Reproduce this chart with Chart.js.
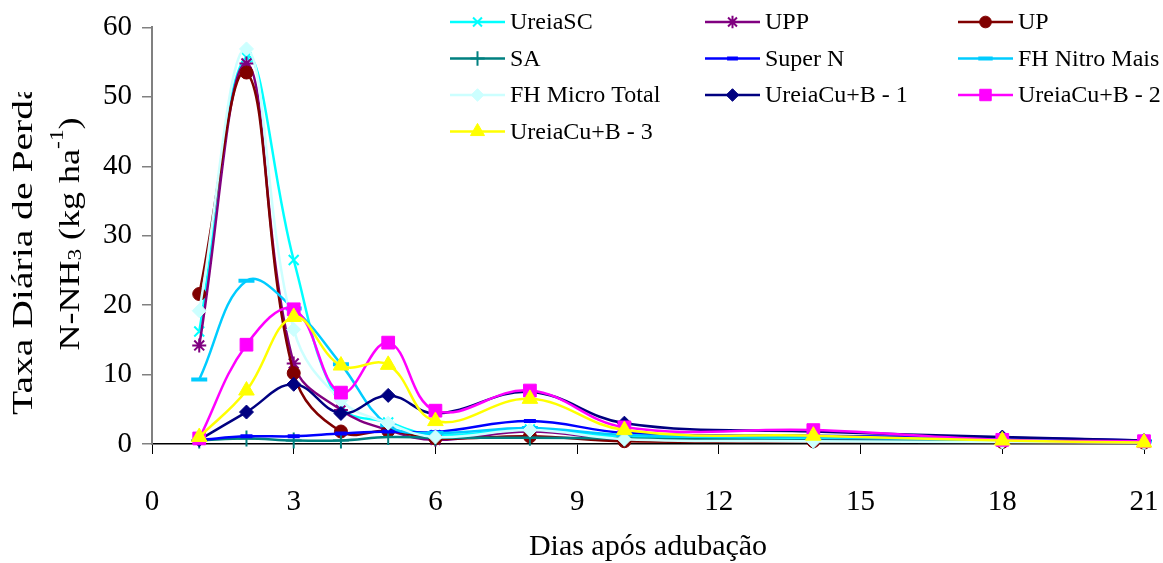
<!DOCTYPE html>
<html>
<head>
<meta charset="utf-8">
<script src="https://cdn.jsdelivr.net/npm/chart.js@4/dist/chart.umd.min.js"></script>
<style>
  html, body { margin: 0; padding: 0; background: #fff; }
  #wrap { width: 1163px; height: 563px; }
</style>
</head>
<body>
<div id="wrap"><canvas id="myChart" width="1163" height="563"></canvas></div>
<script>
// Sampling days after fertilising
const days = [1, 2, 3, 4, 5, 6, 8, 10, 14, 18, 21];

// Daily N-NH3 loss (kg/ha) per treatment
const ureiaSC  = [16.2, 55.7, 26.5, 5.5, 3.1, 1.3, 2.1, 1.0, 0.8, 0.5, 0.3];
const upp      = [14.2, 54.8, 11.6, 4.9, 2.0, 0.6, 1.8, 0.6, 0.5, 0.4, 0.3];
const up       = [21.6, 53.5, 10.2, 1.8, 1.9, 0.8, 1.1, 0.4, 0.4, 0.3, 0.2];
const sa       = [0.5, 0.8, 0.5, 0.5, 1.0, 0.9, 0.9, 0.8, 0.5, 0.4, 0.3];
const superN   = [0.6, 1.1, 1.1, 1.5, 1.8, 1.7, 3.3, 1.6, 1.2, 0.9, 0.5];
const fhNitro  = [9.3, 23.5, 19.5, 11.5, 2.7, 1.6, 2.3, 1.3, 1.0, 0.6, 0.4];
const fhMicro  = [19.2, 56.9, 16.5, 6.3, 3.0, 1.0, 2.0, 0.7, 0.4, 0.3, 0.2];
const ureiaCuB1 = [0.6, 4.6, 8.6, 4.4, 7.0, 4.4, 7.5, 3.0, 1.8, 1.0, 0.5];
const ureiaCuB2 = [0.8, 14.3, 19.4, 7.4, 14.6, 4.8, 7.7, 2.4, 2.0, 0.6, 0.4];
const ureiaCuB3 = [1.0, 7.7, 18.3, 11.3, 11.4, 3.3, 6.5, 2.0, 1.2, 0.5, 0.2];

// Axis ticks
const xTicks = [0, 3, 6, 9, 12, 15, 18, 21];
const yTicks = [0, 10, 20, 30, 40, 50, 60];

const xTitle = 'Dias após adubação';
const yTitleLine1 = 'Taxa Diária de Perda';

const FONT = '"Liberation Serif", "Times New Roman", serif';

// Build one line dataset
function series(label, values, color, pointStyle, radius, markerWidth) {
    return {
        label: label,
        data: days.map((d, i) => ({ x: d, y: values[i] })),
        borderColor: color,
        backgroundColor: color,
        pointBackgroundColor: color,
        pointBorderColor: color,
        pointStyle: pointStyle,
        pointRadius: radius,
        pointHoverRadius: radius,
        pointBorderWidth: markerWidth,
        borderWidth: 2.5,
        tension: 0.4,
        fill: false,
        clip: 20
    };
}

const datasets = [
    series('UreiaSC', ureiaSC, '#00FFFF', 'crossRot', 7, 2),
    series('UPP', upp, '#800080', 'star', 7, 2),
    series('UP', up, '#800000', 'circle', 6.5, 1),
    series('SA', sa, '#008080', 'cross', 8, 2),
    series('Super N', superN, '#0000FF', 'line', 6, 4),
    series('FH Nitro Mais', fhNitro, '#00CCFF', 'line', 8, 4),
    series('FH Micro Total', fhMicro, '#CCFFFF', 'rectRot', 7, 1),
    series('UreiaCu+B - 1', ureiaCuB1, '#000080', 'rectRot', 7, 1),
    series('UreiaCu+B - 2', ureiaCuB2, '#FF00FF', 'rect', 9, 1),
    series('UreiaCu+B - 3', ureiaCuB3, '#FFFF00', 'triangle', 9, 1)
];
// later series sit on top of earlier ones
datasets.forEach((ds, i) => { ds.order = datasets.length - i; });

// Three-column legend inside the plot area
const gridLegend = {
    id: 'gridLegend',
    afterDraw(chart) {
        const ctx = chart.ctx;
        const cols = [450, 705, 958];
        chart.data.datasets.forEach((ds, i) => {
            const x = cols[i % 3];
            const y = 22 + Math.floor(i / 3) * 36.5;
            ctx.save();
            ctx.strokeStyle = ds.borderColor;
            ctx.fillStyle = ds.borderColor;
            ctx.lineWidth = ds.borderWidth;
            ctx.beginPath();
            ctx.moveTo(x, y);
            ctx.lineTo(x + 55, y);
            ctx.stroke();
            ctx.lineWidth = ds.pointBorderWidth;
            if (Chart.helpers && Chart.helpers.drawPoint) {
                Chart.helpers.drawPoint(ctx, {
                    pointStyle: ds.pointStyle,
                    radius: ds.pointRadius * 0.9,
                    borderWidth: ds.pointBorderWidth,
                    rotation: 0
                }, x + 27.5, y);
            }
            ctx.fillStyle = '#000';
            ctx.font = '24px ' + FONT;
            ctx.textAlign = 'left';
            ctx.textBaseline = 'middle';
            ctx.fillText(ds.label, x + 60, y + 1);
            ctx.restore();
        });
    }
};

// Two-line rotated y title with subscript and superscript
const yTitle = {
    id: 'yTitle',
    afterDraw(chart) {
        const ctx = chart.ctx;
        ctx.save();
        ctx.fillStyle = '#000';
        ctx.textBaseline = 'alphabetic';
        ctx.textAlign = 'left';

        // first line, cut at the top of its box
        ctx.save();
        ctx.beginPath();
        ctx.rect(0, 92, 50, 400);
        ctx.clip();
        ctx.translate(31.5, 415);
        ctx.rotate(-Math.PI / 2);
        ctx.scale(1.32, 1);
        ctx.font = '30px ' + FONT;
        ctx.fillText(yTitleLine1, 0, 0);
        ctx.restore();

        // second line: N-NH3 (kg ha-1)
        const size = 30;
        const parts = [
            { t: 'N-NH', s: 1, dy: 0 },
            { t: '3', s: 0.65, dy: 0.08 },
            { t: ' (kg ha', s: 1, dy: 0 },
            { t: '-1', s: 0.65, dy: -0.55 },
            { t: ')', s: 1, dy: 0 }
        ];
        let total = 0;
        parts.forEach(p => {
            ctx.font = (size * p.s) + 'px ' + FONT;
            p.w = ctx.measureText(p.t).width;
            total += p.w;
        });
        ctx.translate(79, 234);
        ctx.rotate(-Math.PI / 2);
        ctx.scale(1.2, 1);
        let u = -total / 2;
        parts.forEach(p => {
            ctx.font = (size * p.s) + 'px ' + FONT;
            ctx.fillText(p.t, u, p.dy * size);
            u += p.w;
        });
        ctx.restore();
    }
};

const config = {
    type: 'line',
    data: { datasets: datasets },
    options: {
        responsive: false,
        animation: false,
        devicePixelRatio: 1,
        layout: { padding: { left: 0, right: 19, top: 27, bottom: 0 } },
        plugins: {
            legend: { display: false },
            tooltip: { enabled: false }
        },
        scales: {
            x: {
                type: 'linear',
                min: 0,
                max: 21,
                afterFit: scale => {
                    scale.height = 119;
                    // end labels may hang past the plot edges
                    scale.paddingLeft = 0;
                    scale.paddingRight = 0;
                },
                afterBuildTicks: scale => { scale.ticks = xTicks.map(v => ({ value: v })); },
                ticks: {
                    color: '#000',
                    font: { family: FONT, size: 29 },
                    padding: 31
                },
                grid: { drawOnChartArea: false, tickLength: 10, color: '#000', lineWidth: 1 },
                border: { color: '#000', width: 1.5 },
                title: {
                    display: true,
                    text: xTitle,
                    color: '#000',
                    font: { family: FONT, size: 30, lineHeight: 1 },
                    padding: { top: 0, bottom: 1 }
                }
            },
            y: {
                min: 0,
                max: 60,
                afterFit: scale => { scale.width = 152; },
                afterBuildTicks: scale => { scale.ticks = yTicks.map(v => ({ value: v })); },
                ticks: {
                    color: '#000',
                    font: { family: FONT, size: 29 },
                    padding: 10
                },
                grid: { drawOnChartArea: false, tickLength: 10, color: '#808080', lineWidth: 1.5 },
                border: { color: '#808080', width: 2 }
            }
        }
    },
    plugins: [gridLegend, yTitle]
};

const myChart = new Chart(document.getElementById('myChart'), config);
</script>
</body>
</html>
